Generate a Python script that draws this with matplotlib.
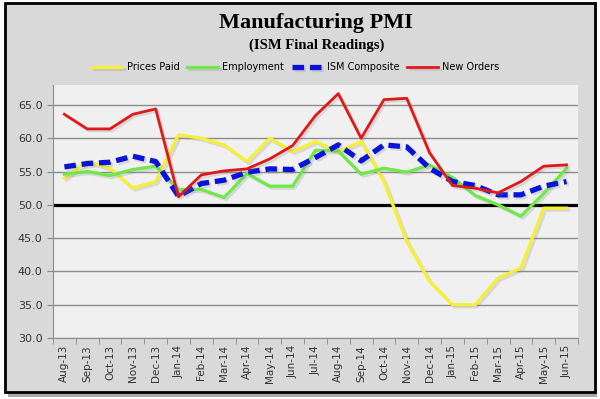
import matplotlib
matplotlib.use("Agg")
import matplotlib.pyplot as plt
import matplotlib.patheffects as pe
from matplotlib.patches import Rectangle
import numpy as np

months = ["Aug-13", "Sep-13", "Oct-13", "Nov-13", "Dec-13", "Jan-14", "Feb-14", "Mar-14",
          "Apr-14", "May-14", "Jun-14", "Jul-14", "Aug-14", "Sep-14", "Oct-14", "Nov-14",
          "Dec-14", "Jan-15", "Feb-15", "Mar-15", "Apr-15", "May-15", "Jun-15"]
prices_paid = [54.0, 56.5, 55.5, 52.5, 53.5, 60.5, 60.0, 59.0, 56.5, 60.0, 58.0, 59.5,
               58.0, 59.5, 53.5, 44.5, 38.5, 35.0, 35.0, 39.0, 40.5, 49.5, 49.5]
employment = [54.6, 55.0, 54.4, 55.3, 55.8, 52.3, 52.3, 51.1, 54.7, 52.8, 52.8, 58.2,
              58.1, 54.6, 55.5, 54.9, 56.0, 54.1, 51.4, 50.0, 48.3, 51.7, 55.5]
ism_composite = [55.7, 56.2, 56.4, 57.3, 56.5, 51.3, 53.2, 53.7, 54.9, 55.4, 55.3, 57.1,
                 59.0, 56.6, 59.0, 58.7, 55.5, 53.5, 52.9, 51.5, 51.5, 52.8, 53.5]
new_orders = [63.6, 61.4, 61.4, 63.6, 64.4, 51.2, 54.5, 55.1, 55.4, 56.9, 58.9, 63.4,
              66.7, 60.0, 65.8, 66.0, 57.8, 52.9, 52.5, 51.8, 53.5, 55.8, 56.0]
y_ticks = [30, 35, 40, 45, 50, 55, 60, 65]

x = np.arange(len(months))
shadow = [pe.SimpleLineShadow(offset=(1.5, -1.5), shadow_color="gray", alpha=0.22), pe.Normal()]

fig = plt.figure(figsize=(6, 3.99), dpi=100, facecolor="white")
# outer frame with shadow
fig.patches.append(Rectangle((0.013, 0.005), 0.982, 0.975, transform=fig.transFigure,
                             facecolor="#a8a8a8", edgecolor="none", zorder=-3))
fig.patches.append(Rectangle((0.008, 0.017), 0.983, 0.975, transform=fig.transFigure,
                             facecolor="#d9d9d9", edgecolor="black", linewidth=2, zorder=-2))

ax = fig.add_axes([0.0883, 0.153, 0.875, 0.634])
ax.set_facecolor("#f0f0f0")

ax.plot(x, prices_paid, color="#f5f032", lw=2.3, label="Prices Paid", path_effects=shadow)
ax.plot(x, employment, color="#6fe84a", lw=2.3, label="Employment", path_effects=shadow)
ax.plot(x, ism_composite, color="#0a14d8", lw=3.8, linestyle=(0, (2.2, 1.1)),
        label="ISM Composite", path_effects=shadow)
ax.plot(x, new_orders, color="#e01818", lw=2.0, label="New Orders", path_effects=shadow)
ax.axhline(50, color="black", lw=2.3, zorder=1)

ax.set_xlim(-0.5, len(months) - 0.5)
ax.set_ylim(30, 68)
ax.set_yticks(y_ticks)
ax.set_yticklabels([f"{v:.1f}" for v in y_ticks], fontsize=8, color="#333333")
ax.set_xticks(x)
ax.set_xticklabels(months, rotation=90, fontsize=7.5, color="#333333")
ax.set_xticks(np.arange(-0.5, len(months)), minor=True)
ax.tick_params(axis="x", which="major", length=0, pad=5)
ax.tick_params(axis="x", which="minor", length=4, color="#888888")
ax.tick_params(axis="y", length=4, color="#888888")
ax.grid(axis="y", color="#8c8c8c", lw=1)
ax.set_axisbelow(True)
for s in ["top", "right"]:
    ax.spines[s].set_visible(False)
ax.spines["left"].set_color("#8c8c8c")
ax.spines["bottom"].set_color("#8c8c8c")

fig.text(0.527, 0.943, "Manufacturing PMI", ha="center", va="center",
         fontsize=16, fontweight="bold", family="Liberation Serif")
fig.text(0.527, 0.887, "(ISM Final Readings)", ha="center", va="center",
         fontsize=10.5, fontweight="bold", family="Liberation Serif")
fig.legend(loc="center", bbox_to_anchor=(0.493, 0.832), ncol=4, frameon=False,
           fontsize=7, handlelength=3.1, handletextpad=0.5, columnspacing=0.8)

plt.savefig("out.png", dpi=100, facecolor=fig.get_facecolor())
